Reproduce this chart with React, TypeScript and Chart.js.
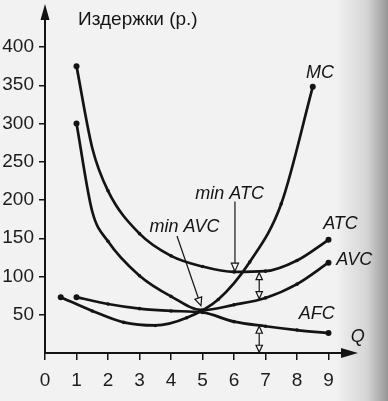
import React, { useEffect, useRef } from "react";
import { Chart, registerables } from "chart.js";

Chart.register(...registerables);

// ---- data ----
const X_TICKS = [0, 1, 2, 3, 4, 5, 6, 7, 8, 9];
const Y_TICKS = [50, 100, 150, 200, 250, 300, 350, 400];

const ATC_Q = [1, 1.5, 2, 3, 4, 5, 6, 7, 8, 9];
const ATC_V = [375, 268, 212, 156, 127, 113, 106, 107, 121, 148];

const AVC_Q = [1, 1.5, 2, 3, 4, 5, 6, 7, 8, 9];
const AVC_V = [300, 185, 146, 101, 74, 56, 63, 72, 90, 118];

const AFC_Q = [1, 2, 3, 4, 5, 6, 7, 8, 9];
const AFC_V = [73, 64, 58, 55, 53, 41, 35, 30, 26];

const MC_Q = [0.5, 1.5, 2.5, 3.5, 4.5, 5.5, 6.5, 7.5, 8.5];
const MC_V = [73, 55, 40, 36, 46, 70, 119, 195, 348];

const Y_TITLE = "Издержки (р.)";
const CURVE_LABELS = [
  { text: "MC", q: 8.73, v: 366 },
  { text: "min ATC", q: 5.86, v: 208 },
  { text: "min AVC", q: 4.43, v: 165 },
  { text: "ATC", q: 9.38, v: 169 },
  { text: "AVC", q: 9.82, v: 122 },
  { text: "AFC", q: 8.63, v: 51 },
  { text: "Q", q: 9.93, v: 21 },
];
// pointer arrows (data units): from -> tip
const MIN_ATC_ARROW = { q1: 6.03, v1: 198, q2: 6.03, v2: 107 };
const MIN_AVC_ARROW = { q1: 4.19, v1: 153, q2: 4.95, v2: 62 };
// double arrows at Q = 6.8
const GAP_Q = 6.8;
const GAP_ATC_AVC = [105, 71];
const GAP_AFC_AXIS = [35, 1];

const INK = "#141414";
const BG = "#f2f2f2";
const FONT = '"Liberation Sans", Arial, Helvetica, sans-serif';

function toXY(qs: number[], vs: number[]) {
  return qs.map((q, i) => ({ x: q, y: vs[i] }));
}

function radiusFn(ctx: any) {
  const n = ctx.dataset.data.length;
  const i = ctx.dataIndex;
  if (i === 0 || i === n - 1) return 3;
  const p = ctx.dataset.data[i];
  if (ctx.dataset.label !== "MC" && p && !Number.isInteger(p.x)) return 0;
  return 1.8;
}

function hollowHead(ctx: CanvasRenderingContext2D, tx: number, ty: number, ang: number, len = 8, hw = 3.6) {
  const bx = tx - Math.cos(ang) * len;
  const by = ty - Math.sin(ang) * len;
  const px = -Math.sin(ang) * hw;
  const py = Math.cos(ang) * hw;
  ctx.beginPath();
  ctx.moveTo(tx, ty);
  ctx.lineTo(bx + px, by + py);
  ctx.lineTo(bx - px, by - py);
  ctx.closePath();
  ctx.fillStyle = BG;
  ctx.fill();
  ctx.stroke();
}

const decorPlugin = {
  id: "decor",
  beforeDraw(chart: any) {
    const { ctx, width, height } = chart;
    ctx.save();
    ctx.fillStyle = BG;
    ctx.fillRect(0, 0, width, height);
    const g = ctx.createLinearGradient(335, 0, width, 0);
    g.addColorStop(0, "rgba(0,0,0,0)");
    g.addColorStop(0.6, "rgba(0,0,0,0.12)");
    g.addColorStop(1, "rgba(0,0,0,0.38)");
    ctx.fillStyle = g;
    ctx.fillRect(335, 0, width - 335, height);
    ctx.restore();
  },
  beforeDatasetsDraw(chart: any) {
    const { ctx, chartArea } = chart;
    const xs = chart.scales.x;
    const x0 = xs.getPixelForValue(0);
    const y0 = chartArea.bottom;
    ctx.save();
    ctx.strokeStyle = INK;
    ctx.fillStyle = INK;
    ctx.lineWidth = 2;
    // y axis
    ctx.beginPath();
    ctx.moveTo(x0, y0);
    ctx.lineTo(x0, 14);
    ctx.stroke();
    ctx.beginPath();
    ctx.moveTo(x0, 4);
    ctx.lineTo(x0 - 4.5, 20);
    ctx.lineTo(x0 + 4.5, 20);
    ctx.closePath();
    ctx.fill();
    // x axis
    const xe = 358;
    ctx.beginPath();
    ctx.moveTo(x0, y0);
    ctx.lineTo(xe - 8, y0);
    ctx.stroke();
    ctx.beginPath();
    ctx.moveTo(xe, y0);
    ctx.lineTo(xe - 17, y0 - 5);
    ctx.lineTo(xe - 17, y0 + 5);
    ctx.closePath();
    ctx.fill();
    ctx.restore();
  },
  afterDatasetsDraw(chart: any) {
    const { ctx } = chart;
    const xs = chart.scales.x;
    const ys = chart.scales.y;
    const px = (q: number) => xs.getPixelForValue(q);
    const py = (v: number) => ys.getPixelForValue(v);
    ctx.save();
    // titles / labels
    ctx.fillStyle = INK;
    ctx.textBaseline = "middle";
    ctx.textAlign = "left";
    ctx.font = `19px ${FONT}`;
    ctx.fillText(Y_TITLE, px(1.05), py(435.5));
    ctx.textAlign = "center";
    ctx.font = `italic 18px ${FONT}`;
    for (const l of CURVE_LABELS) {
      ctx.fillText(l.text, px(l.q), py(l.v));
    }
    // pointer arrows
    ctx.strokeStyle = INK;
    ctx.lineWidth = 1.2;
    for (const a of [MIN_ATC_ARROW, MIN_AVC_ARROW]) {
      const x1 = px(a.q1), y1 = py(a.v1), x2 = px(a.q2), y2 = py(a.v2);
      const ang = Math.atan2(y2 - y1, x2 - x1);
      ctx.beginPath();
      ctx.moveTo(x1, y1);
      ctx.lineTo(x2 - Math.cos(ang) * 8, y2 - Math.sin(ang) * 8);
      ctx.stroke();
      hollowHead(ctx, x2, y2, ang);
    }
    // double arrows
    for (const [top, bot] of [GAP_ATC_AVC, GAP_AFC_AXIS]) {
      const x = px(GAP_Q), yt = py(top), yb = py(bot);
      ctx.beginPath();
      ctx.moveTo(x, yt + 6);
      ctx.lineTo(x, yb - 6);
      ctx.stroke();
      hollowHead(ctx, x, yt, -Math.PI / 2, 7, 3.2);
      hollowHead(ctx, x, yb, Math.PI / 2, 7, 3.2);
    }
    ctx.restore();
  },
};

export default function App() {
  const ref = useRef<HTMLCanvasElement | null>(null);
  useEffect(() => {
    document.body.style.margin = "0";
    const canvas = ref.current;
    if (!canvas) return;
    const mk = (label: string, qs: number[], vs: number[]) => ({
      label,
      data: toXY(qs, vs),
      showLine: true,
      borderColor: INK,
      borderWidth: 2.7,
      backgroundColor: INK,
      pointBackgroundColor: INK,
      pointBorderWidth: 0,
      pointRadius: radiusFn,
      cubicInterpolationMode: "monotone" as const,
      clip: false as const,
    });
    const chart = new Chart(canvas, {
      type: "scatter",
      data: {
        datasets: [
          mk("ATC", ATC_Q, ATC_V),
          mk("AVC", AVC_Q, AVC_V),
          mk("AFC", AFC_Q, AFC_V),
          mk("MC", MC_Q, MC_V),
        ],
      },
      options: {
        animation: false,
        responsive: false,
        devicePixelRatio: 1,
        layout: { padding: { top: 8, right: 28, left: 0, bottom: 0 } },
        plugins: { legend: { display: false }, tooltip: { enabled: false } },
        scales: {
          x: {
            type: "linear",
            min: 0,
            max: 10,
            afterBuildTicks: (s: any) => {
              s.ticks = X_TICKS.map((v) => ({ value: v }));
            },
            afterFit: (s: any) => {
              s.height = 48;
            },
            border: { display: false },
            grid: {
              display: true,
              drawOnChartArea: false,
              drawTicks: true,
              tickLength: 7,
              color: INK,
              lineWidth: 1.5,
            },
            ticks: {
              color: "#1c1c1c",
              font: { size: 19, family: FONT },
              padding: 9,
              maxRotation: 0,
              autoSkip: false,
            },
          },
          y: {
            type: "linear",
            min: 0,
            max: 440,
            afterBuildTicks: (s: any) => {
              s.ticks = Y_TICKS.map((v) => ({ value: v }));
            },
            afterFit: (s: any) => {
              s.width = 45;
            },
            border: { display: false },
            grid: {
              display: true,
              drawOnChartArea: false,
              drawTicks: true,
              tickLength: 6,
              color: INK,
              lineWidth: 1.5,
            },
            ticks: {
              color: "#1c1c1c",
              font: { size: 19, family: FONT },
              padding: 5,
              autoSkip: false,
            },
          },
        },
      },
      plugins: [decorPlugin],
    });
    return () => chart.destroy();
  }, []);
  return (
    <div style={{ position: "absolute", left: 0, top: 0, width: 388, height: 401 }}>
      <canvas ref={ref} width={388} height={401} style={{ width: 388, height: 401 }} />
    </div>
  );
}
